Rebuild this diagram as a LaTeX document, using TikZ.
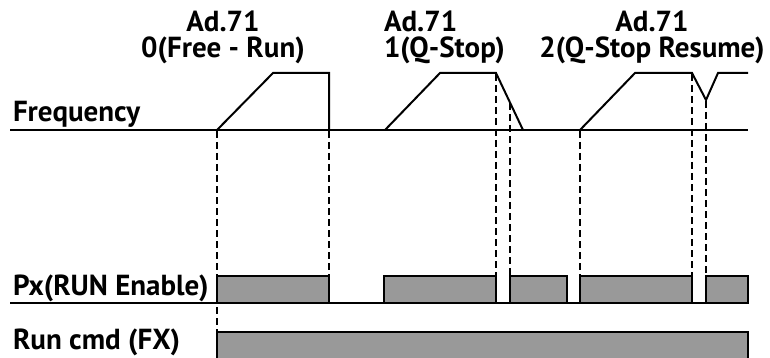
\documentclass[tikz,border=0pt]{standalone}
\usepackage{fontspec}
\setmainfont{PT Sans}
\begin{document}
\begin{tikzpicture}[x=1pt, y=-1pt, line width=2pt,
    every node/.style={font=\fontsize{29}{26}\selectfont\bfseries, inner sep=0pt},
    pulse/.style={draw, fill=black!40},
    guide/.style={dashed, dash pattern=on 7pt off 4pt, line width=1.6pt}]
    \useasboundingbox (0,0) rectangle (770,358);
    % labels
    \node[anchor=base west] (freq) at (12,122) {Frequency};
    \node[anchor=base west] (px) at (12,295) {Px(RUN Enable)};
    \node[anchor=base west] (run) at (12,349) {Run cmd (FX)};
    \node[anchor=base, align=center] (mode0) at (223,58) {Ad.71\\0(Free - Run)};
    \node[anchor=base west, align=left] (mode1) at (383,58) {Ad.71\\1(Q-Stop)};
    \node[anchor=base, align=center] (mode2) at (652,58) {Ad.71\\2(Q-Stop Resume)};
    % frequency
    \draw (10,130) -- (748,130);
    \draw (217,130) -- (273,73) -- (329,73) -- (329,130);
    \draw (385,130) -- (440,73) -- (496,73) -- (523,130);
    \draw (580,130) -- (635,73) -- (692,73) -- (706,100) -- (718,73) -- (748,73);
    % Px
    \draw (10,303) -- (748,303);
    \draw[pulse] (217,303) rectangle (329,276);
    \draw[pulse] (384,303) rectangle (496,276);
    \draw[pulse] (510,303) rectangle (567,276);
    \draw[pulse] (580,303) rectangle (692,276);
    \draw[pulse] (706,303) rectangle (748,276);
    % Run cmd
    \draw[pulse] (217,362) rectangle (748,332);
    % guides
    \draw[guide] (217,131) -- (217,332);
    \draw[guide] (329,131) -- (329,276);
    \draw[guide] (496,74) -- (496,276);
    \draw[guide] (510,103) -- (510,276);
    \draw[guide] (580,131) -- (580,276);
    \draw[guide] (692,74) -- (692,276);
    \draw[guide] (706,101) -- (706,276);
\end{tikzpicture}
\end{document}
